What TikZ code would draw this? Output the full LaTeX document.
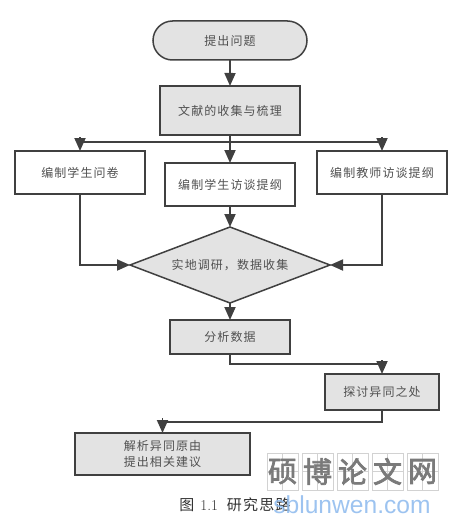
\documentclass[tikz,border=0pt]{standalone}
\usepackage{fontspec}
\usepackage{xcolor}
\newfontfamily\cjk[LetterSpace=9]{Noto Sans CJK SC}
\newfontfamily\cjkcap[LetterSpace=8]{Noto Sans CJK SC}
\newfontfamily\cjkbold[FakeBold=2.5]{Noto Sans CJK SC}
\setsansfont{Liberation Sans}
\usetikzlibrary{shapes.geometric,shapes.misc,arrows.meta,positioning}
\definecolor{inkgray}{HTML}{404040}
\definecolor{textgray}{HTML}{505050}
\definecolor{fillgray}{HTML}{E3E3E3}
\definecolor{markgray}{HTML}{7A7A7A}
\definecolor{cellgray}{HTML}{D2D2D2}
\definecolor{markblue}{HTML}{92BDEE}

\begin{document}
\begin{tikzpicture}[
    x=1pt, y=1pt,
    every node/.style={font=\cjk\fontsize{12}{16}\selectfont, text=textgray, outer sep=0pt},
    whitebox/.style={rectangle, draw=inkgray, line width=1.5pt, fill=white, align=center, inner sep=0pt},
    graybox/.style={whitebox, fill=fillgray},
    wire/.style={draw=inkgray, line width=1.8pt},
    arrow/.style={wire, -{Triangle[width=11pt,length=13pt]}},
    markcell/.style={rectangle, draw=cellgray, line width=0.6pt, minimum width=31pt, minimum height=37pt, inner sep=0pt}
]
    \useasboundingbox (0,0) rectangle (455,-524);

    \node[graybox, rounded rectangle, minimum width=154pt, minimum height=39pt] (start) at (230,-40.5) {提出问题};
    \node[graybox, line width=1.8pt, minimum width=140pt, minimum height=49pt, below=26pt of start] (review) {文献的收集与梳理};
    \node[whitebox, minimum width=130pt, minimum height=43pt, below=28pt of review] (studentguide) {编制学生访谈提纲};
    \node[whitebox, minimum width=130pt, minimum height=43pt, left=20pt of studentguide, yshift=12pt] (survey) {编制学生问卷};
    \node[whitebox, minimum width=130pt, minimum height=43pt, right=22pt of studentguide, yshift=12pt] (teacherguide) {编制教师访谈提纲};
    \node[diamond, draw=inkgray, line width=1.5pt, fill=fillgray, inner sep=0pt, aspect=2.63, minimum width=200pt, minimum height=76pt, below=21pt of studentguide] (fieldwork) {实地调研，数据收集};
    \node[graybox, minimum width=120pt, minimum height=34pt, below=17pt of fieldwork] (analysis) {分析数据};
    \node[graybox, minimum width=114pt, minimum height=36pt, below right=20pt and 35pt of analysis] (discuss) {探讨异同之处};
    \node[graybox, minimum width=175pt, minimum height=42pt, below left=23pt and 75pt of discuss] (explain) {解析异同原由\\提出相关建议};

    \coordinate (branch) at (review.south |- 0,-142);
    \coordinate (turnright) at (analysis.south |- 0,-364);
    \coordinate (turnleft) at (discuss.south |- 0,-422);

    \draw[arrow] (start) -- (review);
    \draw[wire] (review.south) -- (branch);
    \draw[arrow] (branch) -- (studentguide);
    \draw[wire] (survey.north |- branch) -- (teacherguide.north |- branch);
    \draw[arrow] (survey.north |- branch) ++(0,5) -- (survey.north);
    \draw[arrow] (teacherguide.north |- branch) ++(0,5) -- (teacherguide.north);
    \draw[arrow] (studentguide) -- (fieldwork);
    \draw[arrow] (survey.south) |- (fieldwork.west);
    \draw[arrow] (teacherguide.south) |- (fieldwork.east);
    \draw[arrow] (fieldwork) -- (analysis);
    \draw[wire] (analysis.south) -- (turnright) -- (discuss.north |- turnright);
    \draw[arrow] (discuss.north |- turnright) ++(0,4) -- (discuss.north);
    \draw[wire] (discuss.south) -- (turnleft) -- (explain.north |- turnleft);
    \draw[arrow] (explain.north |- turnleft) ++(0,4) -- (explain.north);

    \foreach \i/\cx/\ch in {1/282.5/硕, 2/317.5/博, 3/352.5/论, 4/387.5/文, 5/422.5/网} {
        \node[markcell] (cell\i) at (\cx,-471.5) {};
        \draw[cellgray, line width=0.4pt] (cell\i.north) -- (cell\i.south) (cell\i.west) -- (cell\i.east);
        \node[font=\cjkbold\fontsize{29}{29}\selectfont, text=markgray] (mark\i) at (cell\i) {\ch};
    }
    \node[font=\cjkcap\fontsize{15}{15}\selectfont, text=black!80] (caption) at (235,-505) {图\hspace{6pt}{\rmfamily 1.1}\hspace{9pt}研究思路};
    \node[font=\sffamily\fontsize{24.6}{25}\selectfont, text=markblue, opacity=0.9] (site) at (352,-505) {sblunwen.com};
\end{tikzpicture}
\end{document}
